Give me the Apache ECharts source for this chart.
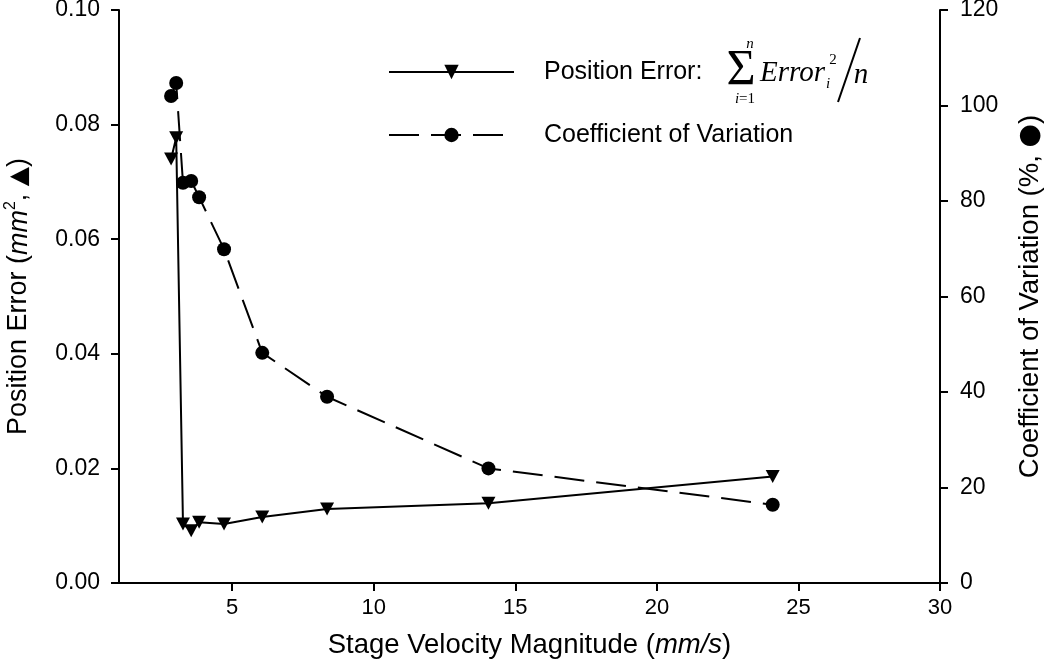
<!DOCTYPE html>
<html>
<head>
<meta charset="utf-8">
<script src="https://cdn.jsdelivr.net/npm/echarts@6/dist/echarts.min.js"></script>
<style>
html, body { margin: 0; padding: 0; background: #fff; }
#main { width: 1050px; height: 664px; }
</style>
</head>
<body>
<div id="main"></div>
<script>
// stage velocity (mm/s)
var velocity = [2.84, 3.02, 3.26, 3.55, 3.83, 4.71, 6.06, 8.35, 14.05, 24.09];
// position error (mm^2), left axis
var posError = [0.0740, 0.0777, 0.0103, 0.0091, 0.0106, 0.0103, 0.0115, 0.0129, 0.0139, 0.0186];
// coefficient of variation (%), right axis
var coefVar = [102.0, 104.7, 83.8, 84.2, 80.8, 69.9, 48.2, 39.0, 24.0, 16.4];
var xTicks = [5, 10, 15, 20, 25, 30];

var SANS = '"Liberation Sans", Arial, sans-serif';
var SERIF = '"Liberation Serif", "Times New Roman", serif';
var INK = '#000';

function pairs(xs, ys) {
	var out = [];
	for (var i = 0; i < xs.length; i++) out.push([xs[i], ys[i]]);
	return out;
}

var axisLine = { show: true, lineStyle: { color: INK, width: 2 } };
var axisTick = { show: true, inside: false, length: 8, lineStyle: { color: INK, width: 2 } };

var option = {
	animation: false,
	backgroundColor: '#fff',
	grid: { left: 119, right: 110, top: 10, bottom: 81, containLabel: false, outerBoundsMode: 'none' },
	legend: [{
		data: ['Position Error'],
		left: 388, top: 57, padding: 0,
		itemWidth: 125, itemHeight: 18,
		selectedMode: false,
		formatter: function () { return 'Position Error:'; },
		textStyle: { fontSize: 25, fontFamily: SANS, color: INK, lineHeight: 30, padding: [0, 0, 0, 25] }
	}, {
		data: ['Coefficient of Variation'],
		left: 388, top: 120, padding: 0,
		itemWidth: 125, itemHeight: 18,
		selectedMode: false,
		textStyle: { fontSize: 25, fontFamily: SANS, color: INK, lineHeight: 30, padding: [0, 0, 0, 25] }
	}],
	xAxis: [{
		type: 'value', min: 1, max: 30,
		position: 'bottom',
		name: '{n|Stage Velocity Magnitude (}{i|mm/s}{n|)}',
		nameLocation: 'middle', nameGap: 48,
		nameTextStyle: {
			rich: {
				n: { fontSize: 27.5, fontFamily: SANS, color: INK },
				i: { fontSize: 27.5, fontFamily: SANS, fontStyle: 'italic', color: INK }
			}
		},
		splitLine: { show: false },
		axisLine: axisLine,
		axisTick: { show: true, inside: false, length: 8, lineStyle: { color: INK, width: 2 }, customValues: xTicks },
		axisLabel: { customValues: xTicks, fontSize: 22, fontFamily: SANS, color: INK, margin: 14 }
	}, {
		type: 'value', min: 1, max: 30,
		position: 'top',
		splitLine: { show: false },
		axisLine: axisLine,
		axisTick: { show: false },
		axisLabel: { show: false }
	}],
	yAxis: [{
		type: 'value', min: 0, max: 0.1, interval: 0.02,
		position: 'left',
		name: '{n|Position Error (}{i|mm}{s|2}{n|, }{m|\u25B2}{n|)}',
		nameLocation: 'middle', nameGap: 84, nameRotate: 90,
		nameTextStyle: {
			rich: {
				n: { fontSize: 27, fontFamily: SANS, color: INK, lineHeight: 32 },
				i: { fontSize: 27, fontFamily: SANS, fontStyle: 'italic', color: INK, lineHeight: 32 },
				s: { fontSize: 16, fontFamily: SANS, color: INK, lineHeight: 16, verticalAlign: 'top' },
				m: { fontSize: 25, fontFamily: '"DejaVu Sans", sans-serif', color: INK, lineHeight: 32 }
			}
		},
		splitLine: { show: false },
		axisLine: axisLine,
		axisTick: axisTick,
		axisLabel: {
			fontSize: 23, fontFamily: SANS, color: INK, margin: 19,
			formatter: function (v) { return v.toFixed(2); }
		}
	}, {
		type: 'value', min: 0, max: 120, interval: 20,
		position: 'right',
		name: '{n|Coefficient of Variation (%, }{m|\u25CF}{n|)}',
		nameLocation: 'middle', nameGap: 74, nameRotate: 90,
		nameTextStyle: {
			rich: {
				n: { fontSize: 27.5, fontFamily: SANS, color: INK, lineHeight: 32 },
				m: { fontSize: 27, fontFamily: '"DejaVu Sans", sans-serif', color: INK, lineHeight: 32 }
			}
		},
		splitLine: { show: false },
		axisLine: axisLine,
		axisTick: axisTick,
		axisLabel: { fontSize: 23, fontFamily: SANS, color: INK, margin: 20 }
	}],
	graphic: [
		// summation formula that follows "Position Error:" in the legend
		{ type: 'text', x: 741, y: 71, style: { text: '\u03A3', font: '50px ' + SERIF, fill: INK, align: 'center', verticalAlign: 'middle' } },
		{ type: 'text', x: 750, y: 44, style: { text: 'n', font: 'italic 15px ' + SERIF, fill: INK, align: 'center', verticalAlign: 'middle' } },
		{ type: 'text', x: 745, y: 99, style: { text: '{i|i}{n|=1}', rich: { i: { font: 'italic 15px ' + SERIF, fill: INK }, n: { font: '15px ' + SERIF, fill: INK } }, align: 'center', verticalAlign: 'middle' } },
		{ type: 'text', x: 760, y: 73, style: { text: 'Error', font: 'italic 29px ' + SERIF, fill: INK, align: 'left', verticalAlign: 'middle' } },
		{ type: 'text', x: 828, y: 84, style: { text: 'i', font: 'italic 15px ' + SERIF, fill: INK, align: 'center', verticalAlign: 'middle' } },
		{ type: 'text', x: 833, y: 60, style: { text: '2', font: '15px ' + SERIF, fill: INK, align: 'center', verticalAlign: 'middle' } },
		{ type: 'line', shape: { x1: 860, y1: 38, x2: 838, y2: 102 }, style: { stroke: INK, lineWidth: 2 } },
		{ type: 'text', x: 861, y: 75, style: { text: 'n', font: 'italic 29px ' + SERIF, fill: INK, align: 'center', verticalAlign: 'middle' } }
	],
	series: [{
		name: 'Coefficient of Variation',
		type: 'line',
		xAxisIndex: 0, yAxisIndex: 1,
		data: pairs(velocity, coefVar),
		symbol: 'circle', symbolSize: 14,
		lineStyle: { color: INK, width: 2, type: [30, 12] },
		itemStyle: { color: INK }
	}, {
		name: 'Position Error',
		type: 'line',
		xAxisIndex: 0, yAxisIndex: 0,
		data: pairs(velocity, posError),
		symbol: 'triangle', symbolRotate: 180, symbolSize: [14, 13],
		lineStyle: { color: INK, width: 2 },
		itemStyle: { color: INK }
	}]
};

var myChart = echarts.init(document.getElementById('main'));
myChart.setOption(option);
</script>
</body>
</html>
